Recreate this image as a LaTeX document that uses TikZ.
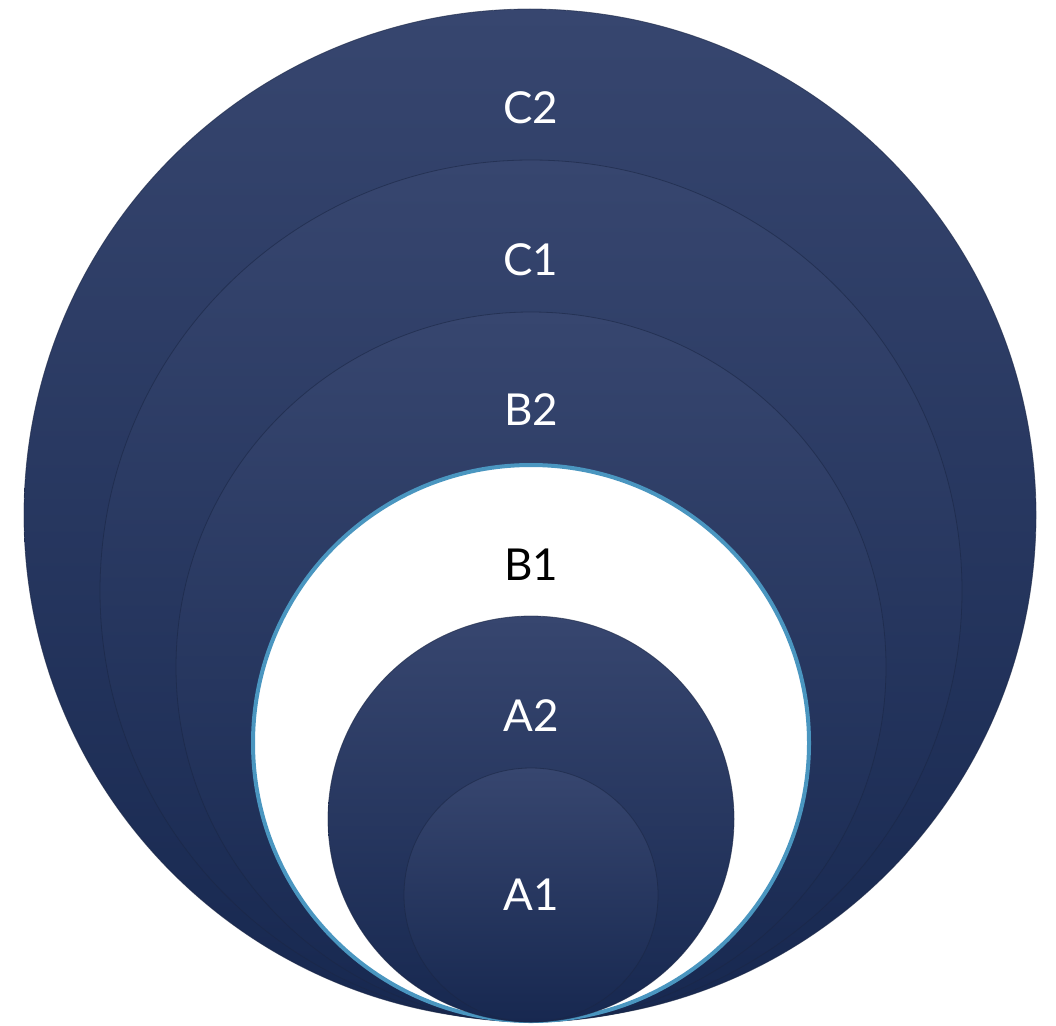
\documentclass[tikz,border=0pt]{standalone}
\usepackage{fontspec}
\setmainfont{Lato}
\begin{document}
\begin{tikzpicture}[x=1pt,y=-1pt,
  ring/.style={circle, inner sep=0pt, top color=ringtop, bottom color=ringbot, draw=ringedge, draw opacity=0.6, line width=0.8pt},
  whitering/.style={circle, inner sep=0pt, fill=white, draw=ringblue, line width=4pt},
  lbl/.style={font=\fontsize{44}{48}\selectfont, text=white, anchor=base}]
\definecolor{ringtop}{HTML}{37466F}
\definecolor{ringbot}{HTML}{172850}
\definecolor{ringedge}{HTML}{1B2745}
\definecolor{ringblue}{HTML}{4A96C0}
\useasboundingbox (0,0) rectangle (1056,1025);
\node[ring, minimum size=1012pt] (C2) at (530,515) {};
\node[ring, minimum size=862pt] (C1) at (531,591) {};
\node[ring, minimum size=710pt] (B2) at (531,667) {};
\node[whitering, minimum size=556pt] (B1) at (531,743) {};
\node[ring, minimum size=406pt] (A2) at (531,819) {};
\node[ring, minimum size=254pt] (A1) at (531,895) {};
\node[lbl] (tC2) at (531,123) {C2};
\node[lbl] (tC1) at (531,275) {C1};
\node[lbl] (tB2) at (531,425) {B2};
\node[lbl, text=black] (tB1) at (531,580) {B1};
\node[lbl] (tA2) at (531,731) {A2};
\node[lbl] (tA1) at (531,910) {A1};
\end{tikzpicture}
\end{document}
